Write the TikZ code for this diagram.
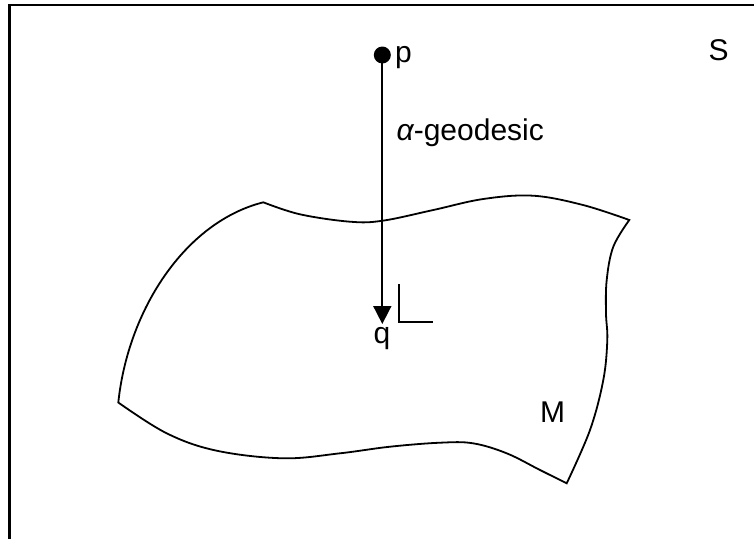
\documentclass[tikz,border=0pt]{standalone}
\usepackage{fontspec}
\setmainfont{Liberation Sans}
\usetikzlibrary{arrows.meta}
\begin{document}
\begin{tikzpicture}[x=1pt,y=-1pt,
  frameline/.style={line width=2.5pt,line cap=rect},
  edge/.style={line width=1.8pt,line join=miter},
  lbl/.style={anchor=base west,inner sep=0pt,font=\fontsize{30}{34}\selectfont},
  dotnode/.style={circle,fill=black,inner sep=0pt,minimum size=17pt}]
\useasboundingbox (0,0) rectangle (754,538);
% frame (left and top)
\draw[frameline] (9.5,540) -- (9.5,5.2) -- (756,5.2);
% surface M
\draw[edge]
  plot[smooth,tension=0.6] coordinates {(263.3,202.3) (300,214.3) (350,221.7) (382.7,220.7) (433.3,210) (483.3,199) (533,195.7) (583,205) (629.3,220)}
  -- plot[smooth,tension=0.6] coordinates {(629.3,220) (613.3,246.7) (606.7,280) (606,313.3) (607.3,340) (603.3,380) (590,430) (566.7,483.3)}
  -- plot[smooth,tension=0.6] coordinates {(566.7,483.3) (540,470) (506.7,453.3) (473,443.3) (440,442.7) (390,446.7) (340,453.3) (283.3,458.3) (216.7,450.7) (166.7,433.3) (118.3,402.5)}
  .. controls (128,310) and (185,222) .. (263.3,202.3)
  -- cycle;
% point p and geodesic
\node[dotnode] (p) at (382.3,55) {};
\coordinate (qtip) at (382.3,324);
\draw[line width=1.7pt,-{Triangle[length=18pt,width=18pt]}] (p.center) -- (qtip);
% right angle mark
\coordinate (ra1) at (399.3,284);
\coordinate (ra2) at (399.3,322.3);
\coordinate (ra3) at (433.3,322.3);
\draw[line width=1.7pt] (ra1) -- (ra2) -- (ra3);
% labels
\node[lbl] (plabel) at (395,62) {p};
\node[lbl] (slabel) at (708.5,60.5) {S};
\node[lbl] (glabel) at (396.5,140.5) {{\itshape α}-geodesic};
\node[lbl] (qlabel) at (373.5,343.5) {q};
\node[lbl] (mlabel) at (540,422.5) {M};
\end{tikzpicture}
\end{document}
